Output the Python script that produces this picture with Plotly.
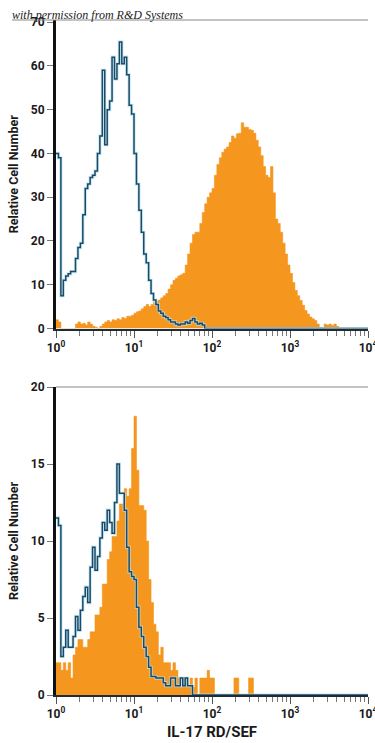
import plotly.graph_objects as go

# ---------------- data ----------------
BINS_PER_DECADE = 32
N_BINS = 128  # 4 decades, 10^0 .. 10^4

# Top panel: isotype control (blue outline) and IL-17 RD/SEF stained (orange fill)
top_isotype = [
    40, 39, 7.5, 11, 12, 12.5, 13, 13, 16, 18.5,
    19.5, 26, 32, 33, 34.5, 35, 36, 40, 44, 59,
    42, 50, 52, 62, 57, 60.5, 65.5, 60.5, 62, 58,
    51, 49, 40, 33, 27, 22, 17, 15, 11, 8,
    6.5, 5.5, 4, 3.5, 2.8, 2.5, 2, 1.5, 1.5, 1,
    0.8, 1, 1, 1.5, 1.2, 1.8, 2.3, 1.5, 1, 1.2,
    0.8, 0, 0, 0, 0, 0, 0, 0, 0, 0,
    0, 0, 0, 0, 0, 0, 0, 0, 0, 0,
    0, 0, 0, 0, 0, 0, 0, 0, 0, 0,
    0, 0, 0, 0, 0, 0, 0, 0, 0, 0,
    0, 0, 0, 0, 0, 0, 0, 0, 0, 0,
    0, 0, 0, 0, 0, 0, 0, 0, 0, 0,
    0, 0, 0, 0, 0, 0, 0, 0,
]
top_stained = [
    2, 1.5, 0, 0, 0, 0, 0, 0, 1, 1.5,
    1, 1.2, 0.8, 1.5, 1, 0.5, 0.3, 0, 0.5, 1,
    1.5, 1.8, 1.5, 2, 1.8, 2.2, 2, 2.5, 2.3, 2.8,
    2.8, 3, 3.5, 3.8, 4, 4.5, 5, 5.5, 5, 5.5,
    6, 6.2, 6.5, 7, 7.5, 8, 9, 10, 11, 11.5,
    12, 12.3, 12.6, 14.5, 17, 19.5, 21.5, 22, 22, 24,
    26.5, 28.5, 30, 31, 32, 35, 37.5, 39, 40.3, 41,
    41.5, 42.5, 44, 43.5, 44.5, 44.6, 47, 46, 46, 45.5,
    45.3, 44.6, 43, 41.5, 39.5, 37, 35, 34.5, 37, 31,
    25, 24, 22, 19.5, 17, 14.5, 12.6, 10.5, 8.7, 7.5,
    6.4, 5.3, 4.1, 3.3, 2.6, 2.2, 1.8, 1, 0.3, 0,
    1, 0.8, 1, 0.7, 1, 0.5, 0, 0, 0, 0,
    0, 0, 0, 0, 0, 0, 0, 0,
]

# Bottom panel
bottom_isotype = [
    11.5, 11, 2.5, 3.1, 4.2, 3.1, 3.1, 3.8, 5.1, 4.2,
    5.5, 6.4, 7, 6, 8.3, 9.6, 8.1, 9, 10.2, 11.2,
    10.7, 12, 11.2, 10.5, 12.5, 15, 13.1, 13.1, 12, 9.6,
    8, 7.7, 7.5, 5.7, 4.4, 3.8, 3.1, 2.5, 1.8, 1.2,
    1.2, 1.1, 1.1, 1.1, 0.8, 0.6, 0.6, 1.1, 1.1, 0.6,
    0.6, 1.1, 0.6, 1.1, 0.6, 0.6, 0, 0, 0, 0,
    0, 0, 0, 0, 0, 0, 0, 0, 0, 0,
    0, 0, 0, 0, 0, 0, 0, 0, 0, 0,
    0, 0, 0, 0, 0, 0, 0, 0, 0, 0,
    0, 0, 0, 0, 0, 0, 0, 0, 0, 0,
    0, 0, 0, 0, 0, 0, 0, 0, 0, 0,
    0, 0, 0, 0, 0, 0, 0, 0, 0, 0,
    0, 0, 0, 0, 0, 0, 0, 0,
]
bottom_stained = [
    2.1, 2.1, 1.6, 2.1, 1.6, 2.1, 1.1, 2.6, 3.1, 3.6,
    3.6, 3.1, 3.1, 3.6, 4.1, 4.1, 5.2, 5.2, 5.7, 7.2,
    7.2, 8.8, 9.3, 10.3, 10.3, 11.3, 12.4, 12.4, 13.4, 12.9,
    13.4, 16, 18.1, 14.6, 12.3, 12.3, 12, 10, 7.5, 6,
    4.6, 4.1, 2.6, 3.1, 2.1, 2.1, 2.1, 1.6, 2.1, 1.6,
    1.1, 0.5, 1.1, 1.1, 0.5, 1.1, 0.5, 1.1, 0, 1.1,
    1.1, 1.1, 1.6, 1.1, 1.1, 0, 0, 0, 0, 0,
    0, 0, 0, 1.1, 1.1, 0, 0, 0, 0, 1.1,
    1.1, 0, 0, 0, 0, 0, 0, 0, 0, 0,
    0, 0, 0, 0, 0, 0, 0, 0, 0, 0,
    0, 0, 0, 0, 0, 0, 0, 0, 0, 0,
    0, 0, 0, 0, 0, 0, 0, 0, 0, 0,
    0, 0, 0, 0, 0, 0, 0, 0,
]

x_tick_vals = [1, 10, 100, 1000, 10000]
x_tick_text = ["10<sup>0</sup>", "10<sup>1</sup>", "10<sup>2</sup>", "10<sup>3</sup>", "10<sup>4</sup>"]
x_minor_mult = [2, 3, 4, 5, 6, 7, 8, 9]
top_y_ticks = [0, 10, 20, 30, 40, 50, 60, 70]
bottom_y_ticks = [0, 5, 10, 15, 20]

y_title = "Relative Cell Number"
x_title = "IL-17 RD/SEF"
credit = "with permission from R&amp;D Systems"

# ---------------- styling ----------------
W, H = 375, 743
ORANGE = "#f5961f"
BLUE = "#1c4a66"
HALO = "#b9e3f3"
FONT = "Roboto, Liberation Sans, sans-serif"

edges = [10 ** (i / BINS_PER_DECADE) for i in range(N_BINS + 1)]
minor_vals = [m * d for d in x_tick_vals[:-1] for m in x_minor_mult]


def step_xy(values):
    xs = list(edges)
    ys = list(values) + [values[-1]]
    return xs, ys


def px_x(p):
    return p / W


def px_y(p):
    return 1 - p / H


fig = go.Figure()

panels = [
    ("x", "y", top_stained, top_isotype),
    ("x2", "y2", bottom_stained, bottom_isotype),
]
for xa, ya, stained, iso in panels:
    sx, sy = step_xy(stained)
    fig.add_trace(go.Scatter(x=sx, y=sy, mode="lines", line=dict(shape="hv", width=0.6, color=ORANGE),
                             fill="tozeroy", fillcolor=ORANGE, xaxis=xa, yaxis=ya,
                             showlegend=False, hoverinfo="skip"))
    ix, iy = step_xy(iso)
    fig.add_trace(go.Scatter(x=ix, y=iy, mode="lines", line=dict(shape="hv", width=3.2, color=HALO),
                             xaxis=xa, yaxis=ya, showlegend=False, hoverinfo="skip", opacity=0.8))
    fig.add_trace(go.Scatter(x=ix, y=iy, mode="lines", line=dict(shape="hv", width=1.5, color=BLUE),
                             xaxis=xa, yaxis=ya, showlegend=False, hoverinfo="skip"))

tickfont = dict(family=FONT, size=12, color="#1a1a1a", weight="bold")

xaxis_common = dict(
    type="log", range=[0, 4], tickvals=x_tick_vals, ticktext=x_tick_text,
    ticks="outside", ticklen=7, tickcolor="#555", tickwidth=1,
    minor=dict(tickvals=minor_vals, ticks="outside", ticklen=5, tickcolor="#777", tickwidth=1),
    showline=True, linecolor="#1e2b38", linewidth=2, showgrid=False, zeroline=False,
    tickfont=tickfont, domain=[px_x(56), px_x(368)], fixedrange=True, automargin=False,
    ticklabeloverflow="allow",
)
yaxis_common = dict(
    ticks="outside", ticklen=6, tickcolor="#777", tickwidth=1,
    showline=True, linecolor="#111", linewidth=3, showgrid=False, zeroline=False,
    tickfont=tickfont, fixedrange=True, automargin=False,
    title=dict(text="<b>" + y_title + "</b>", font=dict(family=FONT, size=12.5, color="#1a1a1a"), standoff=10),
)

fig.update_layout(
    width=W, height=H, margin=dict(l=0, r=0, t=0, b=0, autoexpand=False),
    paper_bgcolor="white", plot_bgcolor="white",
    xaxis=dict(**xaxis_common, anchor="y"),
    yaxis=dict(**yaxis_common, range=[0, 70.5], tickvals=top_y_ticks, anchor="x",
               domain=[px_y(328.5), px_y(20)]),
    xaxis2=dict(**xaxis_common, anchor="y2",
                title=dict(text="<b>" + x_title + "</b>", font=dict(family=FONT, size=15, color="#1a1a1a"), standoff=6)),
    yaxis2=dict(**yaxis_common, range=[0, 20], tickvals=bottom_y_ticks, anchor="x2",
                domain=[px_y(695), px_y(387)]),
    shapes=[
        dict(type="line", xref="paper", yref="paper", x0=px_x(12), x1=px_x(368), y0=px_y(20), y1=px_y(20),
             line=dict(color="#888", width=1)),
        dict(type="line", xref="paper", yref="paper", x0=px_x(56), x1=px_x(368), y0=px_y(387), y1=px_y(387),
             line=dict(color="#888", width=1)),
    ],
    annotations=[
        dict(text="<i>" + credit + "</i>", xref="paper", yref="paper", x=px_x(10), y=px_y(15),
             xanchor="left", yanchor="middle", showarrow=False,
             font=dict(family="Liberation Serif, DejaVu Serif, serif", size=12, color="#222")),
    ],
)

fig.write_html("out.html", config={"displayModeBar": False},
               post_script="document.body.style.margin='0';document.body.style.padding='0';")
